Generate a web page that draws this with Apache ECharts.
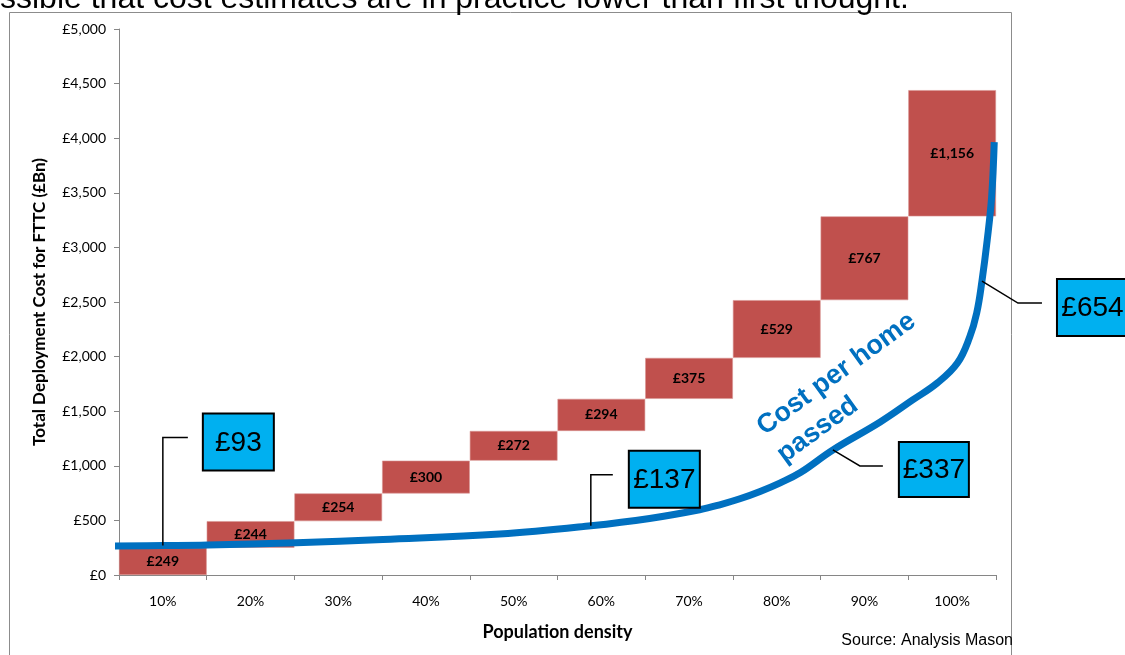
<!DOCTYPE html>
<html>
<head>
<meta charset="utf-8">
<script src="https://cdn.jsdelivr.net/npm/echarts@6/dist/echarts.min.js"></script>
<style>
  html, body { margin: 0; padding: 0; background: #ffffff; }
  #chart { width: 1125px; height: 655px; }
</style>
</head>
<body>
<div id="chart"></div>
<script>
// Population density bands (x axis)
const categories = ['10%', '20%', '30%', '40%', '50%', '60%', '70%', '80%', '90%', '100%'];

// Incremental deployment cost per band, £Bn
const costs = [249, 244, 254, 300, 272, 294, 375, 529, 767, 1156];

// Cost-per-home-passed curve, drawn on the cost axis.
// curvePos is measured in bands from the left edge of the axis (0..10).
const curvePos = [-0.06, 0.50, 1.01, 2.02, 3.01, 4.34, 5.38, 6.05, 6.62, 6.85, 7.08, 7.31, 7.54, 7.77, 8.14, 8.68, 9.05, 9.33, 9.56, 9.70, 9.78, 9.84, 9.90, 9.95, 9.98];
const curveVal = [266, 270, 275, 296, 326, 375, 451, 518, 598, 643, 698, 765, 844, 938, 1145, 1401, 1603, 1758, 1941, 2179, 2399, 2692, 3068, 3462, 3965];

// Cost per home passed callouts and the curve point each one points at
const calloutLabels = ['£93', '£137', '£337', '£654'];
const calloutPoint = [1, 6, 14, 21];

const fmt = v => '£' + v.toLocaleString('en-GB');

// Waterfall base: running total before each band
const bases = [];
costs.reduce((acc, c) => { bases.push(acc); return acc + c; }, 0);

const chart = echarts.init(document.getElementById('chart'));

const AXIS_GREY = '#868686';
const LABEL_FONT = 'Lato, "Open Sans", sans-serif';

chart.setOption({
  animation: false,
  backgroundColor: '#ffffff',
  grid: { left: 119, right: 129, top: 29, bottom: 80 },
  xAxis: [
    {
      type: 'category',
      data: categories,
      axisLine: { lineStyle: { color: AXIS_GREY, width: 1 } },
      axisTick: { show: true, length: 5, lineStyle: { color: AXIS_GREY } },
      axisLabel: { color: '#000', fontFamily: LABEL_FONT, fontSize: 14, margin: 19 },
      name: 'Population density',
      nameLocation: 'middle',
      nameGap: 48,
      nameTextStyle: { color: '#000', fontFamily: LABEL_FONT, fontWeight: 'bold', fontSize: 18 }
    },
    { type: 'value', min: 0, max: 10, show: false }
  ],
  yAxis: {
    type: 'value',
    min: 0, max: 5000, interval: 500,
    splitLine: { show: false },
    axisLine: { show: true, lineStyle: { color: AXIS_GREY, width: 1 } },
    axisTick: { show: true, length: 5, lineStyle: { color: AXIS_GREY } },
    axisLabel: { color: '#000', fontFamily: LABEL_FONT, fontSize: 14, margin: 13, formatter: fmt },
    name: 'Total Deployment Cost for FTTC (£Bn)',
    nameLocation: 'middle',
    nameGap: 71,
    nameTextStyle: { color: '#000', fontFamily: LABEL_FONT, fontWeight: 'bold', fontSize: 17 }
  },
  series: [
    {
      type: 'bar', stack: 'waterfall', data: bases,
      itemStyle: { color: 'transparent' }, barCategoryGap: '0%', silent: true
    },
    {
      type: 'bar', stack: 'waterfall', data: costs,
      barCategoryGap: '0%',
      itemStyle: { color: '#C0504D', borderColor: '#D99694', borderWidth: 0.6 },
      label: {
        show: true, position: 'inside', formatter: p => fmt(p.value),
        color: '#000', fontFamily: LABEL_FONT, fontWeight: 'bold', fontSize: 14
      }
    },
    {
      type: 'line', xAxisIndex: 1, yAxisIndex: 0,
      data: curvePos.map((x, i) => [x, curveVal[i]]),
      smooth: 0.4, symbol: 'none', clip: false, z: 5,
      lineStyle: { color: '#0070C0', width: 7, cap: 'butt', join: 'round' }
    }
  ]
});

// Callout boxes with elbow leader lines, placed from their curve points
const leaders = [
  { path: [[0, 0], [0, -108], [25, -108]], box: [40, -132, 71, 57] },
  { path: [[0, 0], [0, -51], [22, -51]], box: [38, -75, 71, 57] },
  { path: [[0, 0], [27, 16], [50, 16]], box: [66, -8, 70, 55] },
  { path: [[0, 0], [36, 22], [60, 22]], box: [75, -2, 71, 57] }
];

const graphics = [
  {
    type: 'rect', silent: true, z: 0,
    shape: { x: 9.5, y: 12.5, width: 1002, height: 700 },
    style: { fill: 'none', stroke: '#8C8C8C', lineWidth: 1 }
  },
  {
    type: 'text', silent: true,
    x: 0, y: 15,
    style: {
      text: 'ssible that cost estimates are in practice lower than first thought.',
      font: '32px "Liberation Sans", Arial, sans-serif', fill: '#000',
      textAlign: 'left', textVerticalAlign: 'bottom'
    }
  },
  {
    type: 'text', silent: true,
    x: 1013, y: 641,
    style: {
      text: 'Source: Analysis Mason',
      font: '16px "Liberation Sans", Arial, sans-serif', fill: '#000',
      textAlign: 'right', textVerticalAlign: 'middle'
    }
  },
  {
    type: 'text', silent: true, z: 20,
    x: 750, y: 416, rotation: 0.63,
    style: {
      text: 'Cost per home\npassed',
      font: 'bold 27px "Liberation Sans", Arial, sans-serif', fill: '#0070C0',
      textAlign: 'left', textVerticalAlign: 'top', lineHeight: 34
    }
  }
];

calloutPoint.forEach((idx, i) => {
  const [ax, ay] = chart.convertToPixel({ xAxisIndex: 1, yAxisIndex: 0 }, [curvePos[idx], curveVal[idx]]);
  const L = leaders[i];
  graphics.push({
    type: 'polyline', silent: true, z: 30,
    shape: { points: L.path.map(p => [ax + p[0], ay + p[1]]) },
    style: { stroke: '#000', lineWidth: 1.5, fill: null }
  });
  const [bx, by, bw, bh] = L.box;
  graphics.push({
    type: 'rect', silent: true, z: 30,
    shape: { x: ax + bx, y: ay + by, width: bw, height: bh },
    style: { fill: '#00B0F0', stroke: '#000', lineWidth: 2 }
  });
  graphics.push({
    type: 'text', silent: true, z: 31,
    x: ax + bx + bw / 2, y: ay + by + bh / 2 + 1,
    style: {
      text: calloutLabels[i],
      font: '28px "Liberation Sans", Arial, sans-serif', fill: '#000',
      textAlign: 'center', textVerticalAlign: 'middle'
    }
  });
});

chart.setOption({ graphic: graphics });
</script>
</body>
</html>
